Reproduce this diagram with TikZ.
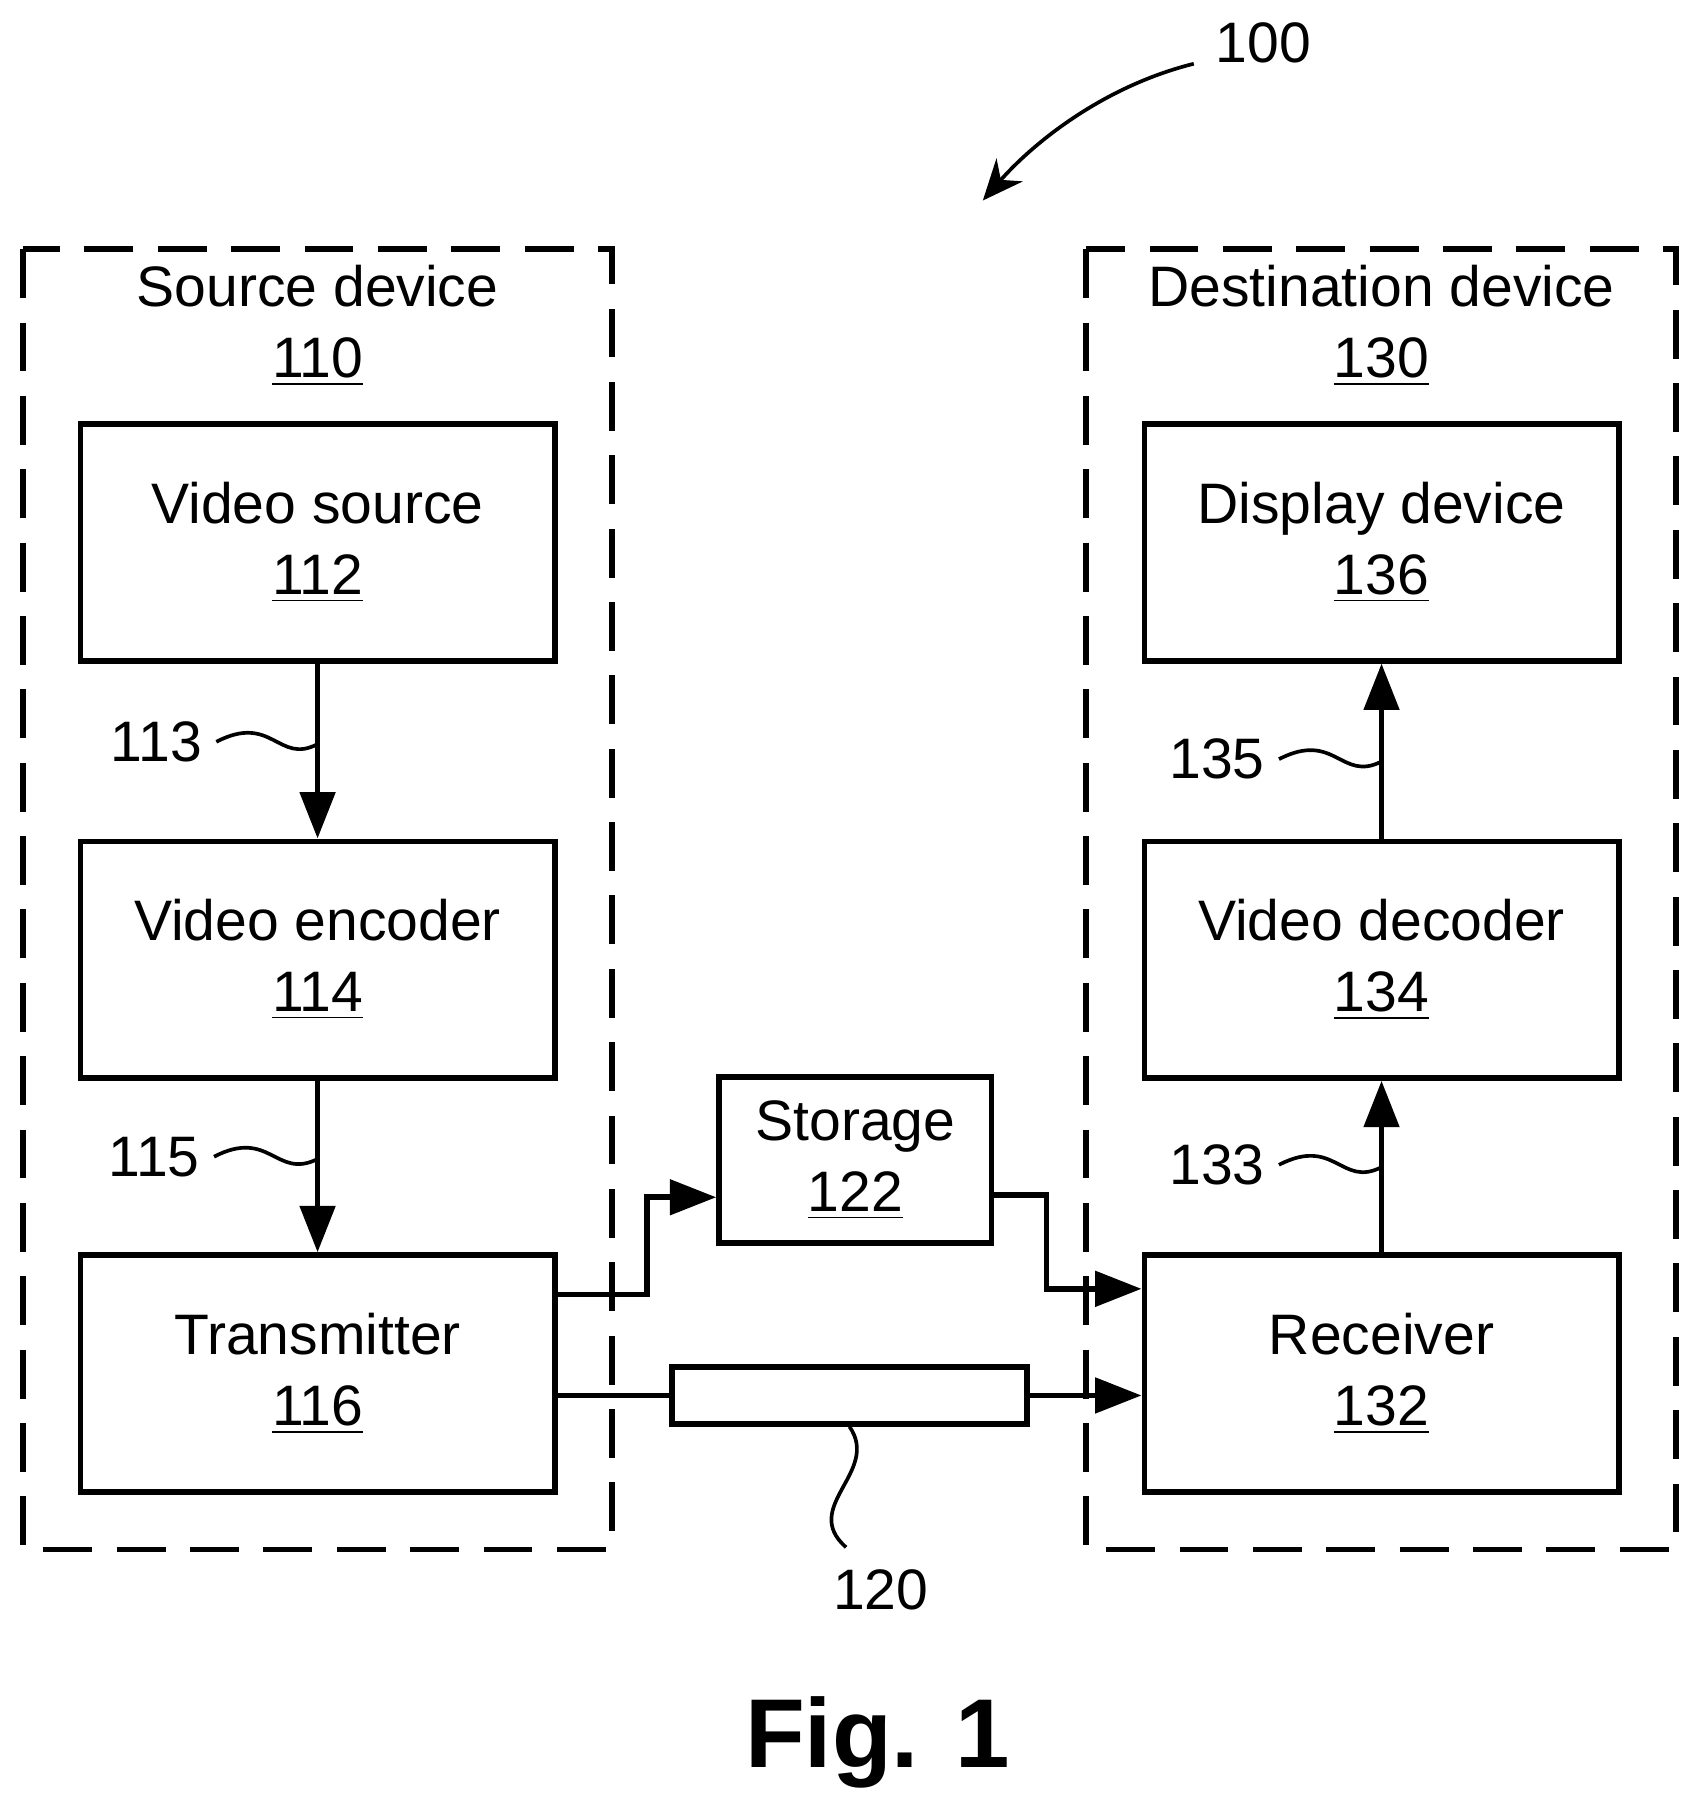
\documentclass[tikz,border=0pt]{standalone}
\usepackage{fontspec}
\setmainfont{Liberation Sans}
\usetikzlibrary{positioning,arrows.meta}
\begin{document}
\begin{tikzpicture}[x=0.01cm,y=-0.01cm,>={Triangle[length=0.4cm,width=0.3cm]},
    every node/.style={font=\fontsize{14}{17.5}\selectfont,align=center},
    block/.style={rectangle,draw,line width=1.4pt,minimum width=4.09cm,minimum height=2.04cm},
    device/.style={draw,line width=1.4pt,dash pattern=on 12pt off 6pt},
    con/.style={->,line width=1.4pt},
    wave/.style={line width=0.9pt}
    ]
  \useasboundingbox (0,0) rectangle (1464,1566);
  % devices
  \draw[device] (20,215) rectangle (528,1337);
  \draw[device] (937,215) rectangle (1446,1337);
  \node (src) at (274,281) {Source device\\\underline{110}};
  \node (dst) at (1192,281) {Destination device\\\underline{130}};
  % source side
  \node (vs) [block] at (274,468) {Video source\\\underline{112}};
  \node (enc) [block] at (274,828) {Video encoder\\\underline{114}};
  \node (tx) [block] at (274,1185) {Transmitter\\\underline{116}};
  % destination side
  \node (disp) [block] at (1192,468) {Display device\\\underline{136}};
  \node (dec) [block] at (1192,828) {Video decoder\\\underline{134}};
  \node (rx) [block] at (1192,1185) {Receiver\\\underline{132}};
  % storage and channel
  \node (sto) [rectangle,draw,line width=1.4pt,minimum width=2.35cm,minimum height=1.43cm] at (738,1001) {Storage\\\underline{122}};
  \node (ch) [rectangle,draw,line width=1.4pt,minimum width=3.06cm,minimum height=0.49cm] at (733,1204) {};

  \draw [con] (vs) -- (enc);
  \draw [con] (enc) -- (tx);
  \draw [con] (rx) -- (dec);
  \draw [con] (dec) -- (disp);
  \draw [con] (tx.east |- 0,1117) -| (558,1033) -- (sto.west |- 0,1033);
  \draw [con] (sto.east |- 0,1031) -| (903,1112) -- (rx.west |- 0,1112);
  \draw [line width=1.4pt] (tx.east |- 0,1204) -- (ch.west);
  \draw [con] (ch.east) -- (rx.west |- 0,1204);

  % reference labels
  \node (l113) at (135,640) {113};
  \node (l115) at (133,998) {115};
  \node (l135) at (1050,655) {135};
  \node (l133) at (1050,1005) {133};
  \node (l120) at (760,1372) {120};
  \node (l100) at (1090,37) {100};
  \draw[wave] (l113.east) .. controls (235,615) and (240,660) .. (274,642);
  \draw[wave] (l115.east) .. controls (233,973) and (238,1018) .. (274,1000);
  \draw[wave] (l135.east) .. controls (1152,630) and (1157,675) .. (1192,657);
  \draw[wave] (l133.east) .. controls (1152,980) and (1157,1025) .. (1192,1007);
  \draw[wave] (ch.south) .. controls (760,1270) and (690,1300) .. (730,1335);
  \draw[wave,-{Stealth[length=0.35cm,width=0.3cm]}] (1030,55) .. controls (950,75) and (890,125) .. (848,173);

  \node (fig) at (757,1503) {\fontsize{24}{28}\selectfont\bfseries Fig. 1};
\end{tikzpicture}
\end{document}
